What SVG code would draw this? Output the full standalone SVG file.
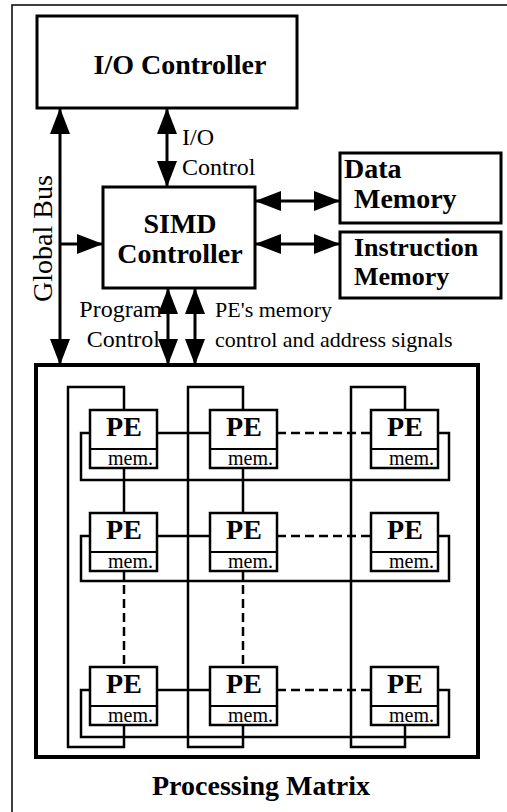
<svg xmlns="http://www.w3.org/2000/svg" width="507" height="812" viewBox="0 0 507 812">
<style>
.box{fill:#fff;stroke:#000;stroke-width:3}
.pe{fill:#fff;stroke:#000;stroke-width:2.5}
.div{stroke:#000;stroke-width:2}
.w{fill:none;stroke:#000;stroke-width:2.5}
.d{fill:none;stroke:#000;stroke-width:2.5;stroke-dasharray:9 5}
.a{fill:none;stroke:#000;stroke-width:3}
.b{font-family:"Liberation Serif","Times New Roman",serif;font-weight:bold;font-size:28px;fill:#000}
.r{font-family:"Liberation Serif","Times New Roman",serif;font-size:24px;fill:#000}
.s{font-family:"Liberation Serif","Times New Roman",serif;font-size:22px;fill:#000}
.m{font-family:"Liberation Serif","Times New Roman",serif;font-size:20px;fill:#000}
</style>
<defs>
<marker id="ah" viewBox="0 0 26 20" refX="26" refY="10" markerWidth="26" markerHeight="20" markerUnits="userSpaceOnUse" orient="auto-start-reverse"><path d="M0,0 L26,10 L0,20 z" fill="#000"/></marker>
</defs>
<rect width="507" height="812" fill="#fff"/>
<path d="M12,812 V5 H507" fill="none" stroke="#000" stroke-width="1.5"/>

<g id="connectors">
  <path class="a" d="M60,108 V365" marker-start="url(#ah)" marker-end="url(#ah)"/>
  <path class="a" d="M60,244 H103" marker-end="url(#ah)"/>
  <path class="a" d="M167,108 V187" marker-start="url(#ah)" marker-end="url(#ah)"/>
  <path class="a" d="M255,201 H340" marker-start="url(#ah)" marker-end="url(#ah)"/>
  <path class="a" d="M255,244 H340" marker-start="url(#ah)" marker-end="url(#ah)"/>
  <path class="a" d="M168,288 V365" marker-start="url(#ah)" marker-end="url(#ah)"/>
  <path class="a" d="M195,288 V365" marker-start="url(#ah)" marker-end="url(#ah)"/>
  <!-- column wrap-around -->
  <path class="w" d="M124,410 V387 H68 V747 H124 V725"/>
  <path class="w" d="M243,410 V387 H188 V747 H243 V725"/>
  <path class="w" d="M405,410 V387 H351 V747 H405 V725"/>
  <!-- row wrap-around -->
  <path class="w" d="M90,433 H81 V480 H449 V433 H438"/>
  <path class="w" d="M90,536 H81 V581 H449 V536 H438"/>
  <path class="w" d="M90,690 H81 V737 H449 V690 H438"/>
  <!-- neighbour links -->
  <path class="w" d="M157,433 H210 M157,536 H210 M157,690 H210"/>
  <path class="d" d="M277,433 H371 M277,536 H371 M277,690 H371"/>
  <path class="w" d="M124,468 V513 M243,468 V513"/>
  <path class="d" d="M124,571 V667 M243,571 V667"/>
</g>

<g id="io-controller">
  <rect class="box" x="37" y="16" width="260" height="92"/>
  <text class="b" x="180" y="74" text-anchor="middle">I/O Controller</text>
</g>
<g id="simd-controller">
  <rect class="box" x="103" y="187" width="152" height="101"/>
  <text class="b" x="180" y="233" text-anchor="middle">SIMD</text>
  <text class="b" x="180" y="263" text-anchor="middle">Controller</text>
</g>
<g id="data-memory">
  <rect class="box" x="340" y="153" width="161" height="70"/>
  <text class="b" x="344" y="178">Data</text>
  <text class="b" x="354" y="208">Memory</text>
</g>
<g id="instruction-memory">
  <rect class="box" x="340" y="232" width="161" height="66"/>
  <text class="b" x="354" y="256" style="font-size:26px">Instruction</text>
  <text class="b" x="354" y="285" style="font-size:26px">Memory</text>
</g>
<g id="labels">
  <text class="r" transform="translate(52,302) rotate(-90)" style="font-size:28px">Global Bus</text>
  <text class="r" x="182" y="145">I/O</text>
  <text class="r" x="182" y="175">Control</text>
  <text class="r" x="162" y="317" text-anchor="end">Program</text>
  <text class="r" x="160" y="347" text-anchor="end">Control</text>
  <text class="s" x="215" y="317">PE's memory</text>
  <text class="s" x="215" y="347">control and address signals</text>
</g>
<g id="processing-matrix">
  <rect x="36" y="365" width="442" height="392" fill="none" stroke="#000" stroke-width="4"/>
  <text class="b" x="261" y="795" text-anchor="middle">Processing Matrix</text>
</g>

<g id="pe-1-1"><rect class="pe" x="90" y="410" width="67" height="58"/><line class="div" x1="90" y1="449" x2="157" y2="449"/><text class="b" x="124" y="436" text-anchor="middle">PE</text><text class="m" x="153" y="465" text-anchor="end">mem.</text></g>
<g id="pe-1-2"><rect class="pe" x="210" y="410" width="67" height="58"/><line class="div" x1="210" y1="449" x2="277" y2="449"/><text class="b" x="244" y="436" text-anchor="middle">PE</text><text class="m" x="273" y="465" text-anchor="end">mem.</text></g>
<g id="pe-1-3"><rect class="pe" x="371" y="410" width="67" height="58"/><line class="div" x1="371" y1="449" x2="438" y2="449"/><text class="b" x="405" y="436" text-anchor="middle">PE</text><text class="m" x="434" y="465" text-anchor="end">mem.</text></g>

<g id="pe-2-1"><rect class="pe" x="90" y="513" width="67" height="58"/><line class="div" x1="90" y1="552" x2="157" y2="552"/><text class="b" x="124" y="539" text-anchor="middle">PE</text><text class="m" x="153" y="568" text-anchor="end">mem.</text></g>
<g id="pe-2-2"><rect class="pe" x="210" y="513" width="67" height="58"/><line class="div" x1="210" y1="552" x2="277" y2="552"/><text class="b" x="244" y="539" text-anchor="middle">PE</text><text class="m" x="273" y="568" text-anchor="end">mem.</text></g>
<g id="pe-2-3"><rect class="pe" x="371" y="513" width="67" height="58"/><line class="div" x1="371" y1="552" x2="438" y2="552"/><text class="b" x="405" y="539" text-anchor="middle">PE</text><text class="m" x="434" y="568" text-anchor="end">mem.</text></g>

<g id="pe-3-1"><rect class="pe" x="90" y="667" width="67" height="58"/><line class="div" x1="90" y1="706" x2="157" y2="706"/><text class="b" x="124" y="693" text-anchor="middle">PE</text><text class="m" x="153" y="722" text-anchor="end">mem.</text></g>
<g id="pe-3-2"><rect class="pe" x="210" y="667" width="67" height="58"/><line class="div" x1="210" y1="706" x2="277" y2="706"/><text class="b" x="244" y="693" text-anchor="middle">PE</text><text class="m" x="273" y="722" text-anchor="end">mem.</text></g>
<g id="pe-3-3"><rect class="pe" x="371" y="667" width="67" height="58"/><line class="div" x1="371" y1="706" x2="438" y2="706"/><text class="b" x="405" y="693" text-anchor="middle">PE</text><text class="m" x="434" y="722" text-anchor="end">mem.</text></g>
</svg>
